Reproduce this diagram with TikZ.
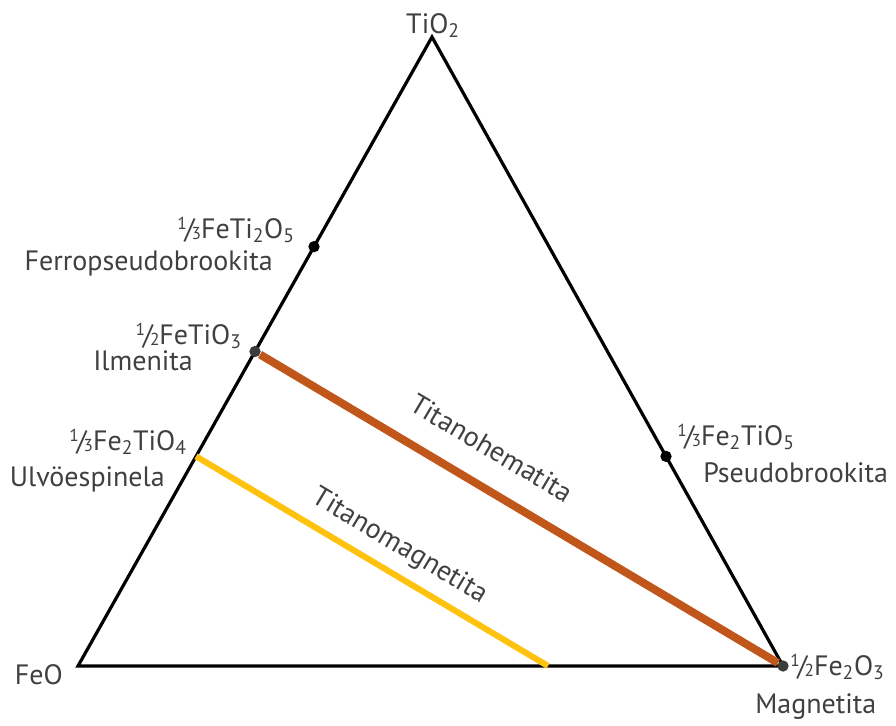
\documentclass[tikz,border=0pt]{standalone}
\usepackage{fontspec}
\setmainfont{PT Sans}
\usetikzlibrary{calc}
\definecolor{labelgray}{HTML}{404040}
\definecolor{hemorange}{HTML}{C1561B}
\definecolor{magyellow}{HTML}{FFC20E}
\definecolor{dotgray}{HTML}{3C3C3C}
\newcommand{\vfr}[2]{\raisebox{0.6ex}{\fontsize{13}{13}\selectfont #1}\kern-0.08em/\kern-0.1em\raisebox{-0.12ex}{\fontsize{13}{13}\selectfont #2}}
\tikzset{
lbl/.style={font=\fontsize{21}{23}\selectfont,text=labelgray,inner sep=0pt},
side/.style={line width=2.4pt,line join=miter},
hemline/.style={line width=6pt,hemorange},
magline/.style={line width=4.6pt,magyellow},
blackdot/.style={circle,fill=black,inner sep=0pt,minimum size=8.5pt},
greydot/.style={blackdot,fill=dotgray}
}
\begin{document}
\begin{tikzpicture}[x=0.75pt,y=-0.75pt]
\useasboundingbox (0,0) rectangle (896,725);
% corners of the triangle
\coordinate (tio) at (432,37);
\coordinate (feo) at (78,666);
\coordinate (fe2o3) at (783,666);
\draw[side] (tio) -- (feo) -- (fe2o3) -- cycle;
% phases on the sides
\node[blackdot] (ferro) at ($(feo)!2/3!(tio)$) {};
\node[greydot] (ilm) at ($(feo)!1/2!(tio)$) {};
\coordinate (ulv) at ($(feo)!1/3!(tio)$);
\node[blackdot] (pseudo) at ($(fe2o3)!1/3!(tio)$) {};
\node[greydot] (magn) at (fe2o3) {};
\coordinate (tmend) at ($(feo)!2/3!(fe2o3)$);
% solid solutions
\draw[hemline] (ilm) -- (magn) node[lbl,sloped,above=18pt,pos=0.41] (hemlbl) {Titanohematita};
\draw[magline] (ulv) -- (tmend) node[lbl,sloped,above=8pt,pos=0.54] (maglbl) {Titanomagnetita};
% labels
\node[lbl,anchor=base] (tiolbl) at (433,33) {TiO\textsubscript{2}};
\node[lbl,anchor=base east] (feolbl) at (63,684) {FeO};
\node[lbl,anchor=base east] (ferrof) at (295,238) {\vfr13FeTi\textsubscript{2}O\textsubscript{5}};
\node[lbl,anchor=base east] (ferron) at (273,270) {Ferropseudobrookita};
\node[lbl,anchor=base east] (ilmf) at (242,344) {\vfr12FeTiO\textsubscript{3}};
\node[lbl,anchor=base east] (ilmn) at (193,370) {Ilmenita};
\node[lbl,anchor=base east] (ulvf) at (187,450) {\vfr13Fe\textsubscript{2}TiO\textsubscript{4}};
\node[lbl,anchor=base east] (ulvn) at (165,486) {Ulvöespinela};
\node[lbl,anchor=base west] (pseudof) at (677,445) {\vfr13Fe\textsubscript{2}TiO\textsubscript{5}};
\node[lbl,anchor=base west] (pseudon) at (703,482) {Pseudobrookita};
\node[lbl,anchor=base west] (magnf) at (790,675) {\vfr12Fe\textsubscript{2}O\textsubscript{3}};
\node[lbl,anchor=base west] (magnn) at (755,713) {Magnetita};
\end{tikzpicture}
\end{document}
